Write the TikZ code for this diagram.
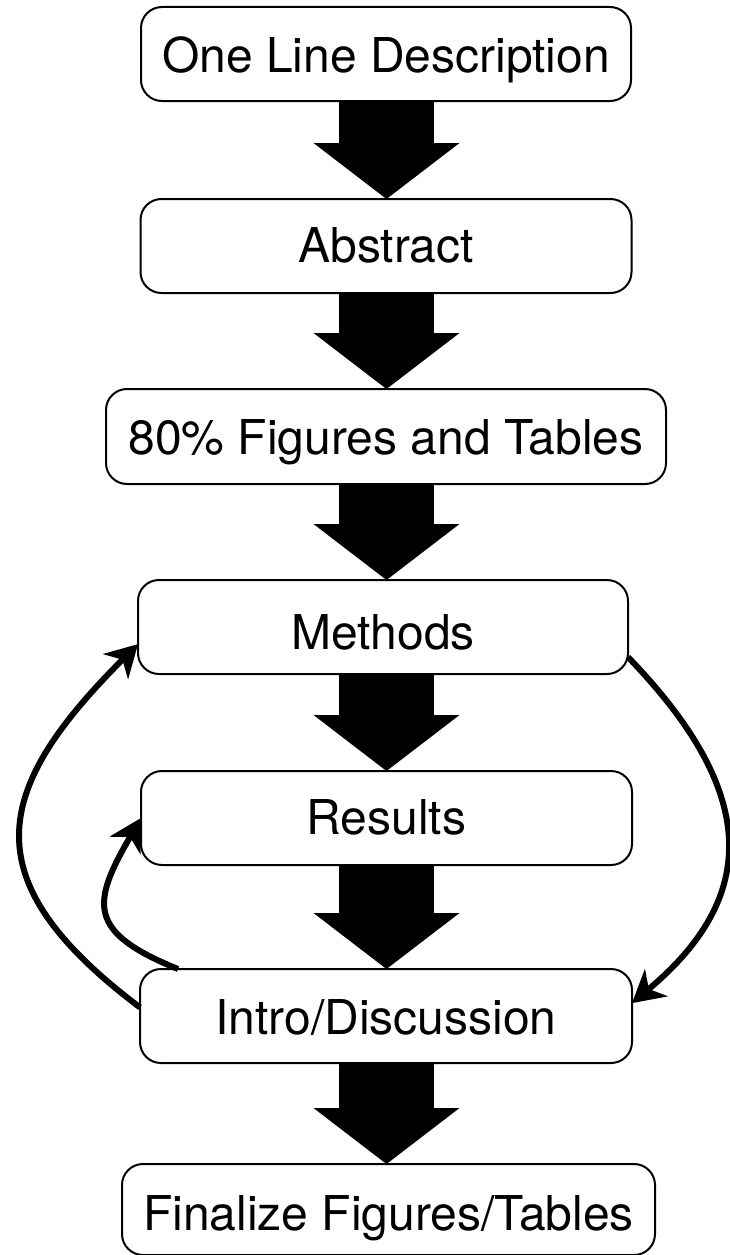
\documentclass[tikz,border=0pt]{standalone}
\usepackage{fontspec}
\setmainfont{TeX Gyre Heros}
\usetikzlibrary{arrows.meta,calc}
\begin{document}
\begin{tikzpicture}[x=1pt,y=1pt,
  box/.style={draw, line width=2pt, rounded corners=21pt, inner sep=0pt, outer sep=0pt,
    font=\fontsize{48}{58}\selectfont, text depth=0pt},
  blockarrow/.style={line width=95pt, -{Triangle[width=146pt,length=56pt,line width=0pt]}},
  curvearrow/.style={line width=6pt, -{Stealth[length=32pt,width=36pt,inset=10pt,line width=0pt]}}]
\useasboundingbox (0,0) rectangle (729,-1255);
\coordinate (ax) at (386.5,0);
\node[box, minimum width=490pt, minimum height=94pt, text height=38pt] (n1) at (386,-54) {One Line Description};
\node[box, minimum width=491pt, minimum height=94pt, text height=33pt] (n2) at (386,-246) {Abstract};
\node[box, minimum width=560pt, minimum height=95pt, text height=36pt] (n3) at (386,-436.5) {80\% Figures and Tables};
\node[box, minimum width=490pt, minimum height=94pt, text height=44pt] (n4) at (383,-627) {Methods};
\node[box, minimum width=491pt, minimum height=94pt, text height=32pt] (n5) at (386.5,-818) {Results};
\node[box, minimum width=492pt, minimum height=94pt, text height=36pt] (n6) at (386,-1016) {Intro/Discussion};
\node[box, minimum width=533pt, minimum height=91pt, text height=41pt] (n7) at (388.5,-1209.5) {Finalize Figures/Tables};
\foreach \a/\b in {n1/n2,n2/n3,n3/n4,n4/n5,n5/n6,n6/n7}
  \draw[blockarrow] (\a.south -| ax) -- (\b.north -| ax);
\draw[curvearrow] (n4.-7.4) to[out=-46,in=40,looseness=1.3] (n6.3.7);
\draw[curvearrow] (n6.178.8) to[out=143,in=225,looseness=1.47] (n4.184.6);
\draw[curvearrow] ($(n6.north west)+(38,0)$) to[out=158,in=240,looseness=1.62] (n5.west);
\end{tikzpicture}
\end{document}
